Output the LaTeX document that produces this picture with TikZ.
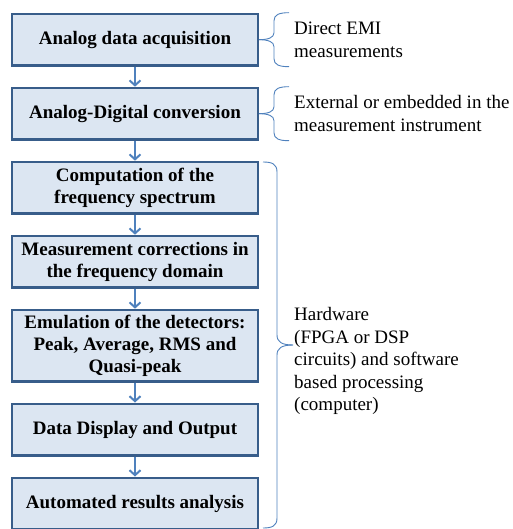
\documentclass[tikz,border=0pt]{standalone}
\usepackage{fontspec}
\setmainfont{Liberation Serif}
\usetikzlibrary{positioning,arrows.meta}
\definecolor{boxfill}{RGB}{220,230,242}
\definecolor{boxline}{RGB}{56,93,138}
\definecolor{linkblue}{RGB}{79,129,189}

\begin{document}
\begin{tikzpicture}[x=1pt, y=1pt, node distance={20pt},
	main/.style = {draw=boxline, line width=2.4pt, fill=boxfill, minimum width=245.6pt, minimum height=51.6pt, inner ysep=5pt, align=center, font=\fontsize{19}{22}\selectfont\bfseries},
	note/.style = {align=left, inner sep=0pt, font=\fontsize{19}{22.5}\selectfont},
	flow/.style = {draw=linkblue, line width=2pt, -{Straight Barb[length=5pt, width=11pt]}},
	curly/.style = {draw=linkblue, line width=0.9pt}]
		\useasboundingbox (0,0) rectangle (512,-529);
		\node[main] (1) at (135,-39.7) {Analog data acquisition};
		\node[main] (2) [below=of 1] {Analog-Digital conversion};
		\node[main] (3) [below=of 2] {Computation of the\\frequency spectrum};
		\node[main] (4) [below=of 3] {Measurement corrections in\\the frequency domain};
		\node[main] (5) [below=of 4] {Emulation of the detectors:\\Peak, Average, RMS and\\Quasi-peak};
		\node[main] (6) [below=of 5] {Data Display and Output};
		\node[main] (7) [below=of 6] {Automated results analysis};
		\draw[flow] (1) -- (2);
		\draw[flow] (2) -- (3);
		\draw[flow] (3) -- (4);
		\draw[flow] (4) -- (5);
		\draw[flow] (5) -- (6);
		\draw[flow] (6) -- (7);
		% braces
		\draw[curly] (1.east) .. controls +(9,0) and +(0,-5) .. ++(15,7) -- ++(0,12) .. controls +(0,6) and +(-10,0) .. ++(15,8);
		\draw[curly] (1.east) .. controls +(9,0) and +(0,5) .. ++(15,-7) -- ++(0,-12) .. controls +(0,-6) and +(-10,0) .. ++(15,-8);
		\draw[curly] (2.east) .. controls +(9,0) and +(0,-5) .. ++(15,7) -- ++(0,12) .. controls +(0,6) and +(-10,0) .. ++(15,8);
		\draw[curly] (2.east) .. controls +(9,0) and +(0,5) .. ++(15,-7) -- ++(0,-12) .. controls +(0,-6) and +(-10,0) .. ++(15,-8);
		\coordinate (tip) at (293,-345);
		\draw[curly] (tip) .. controls (282,-345) and (277,-342) .. (277,-335) -- (277,-172) .. controls (277,-164) and (272,-162) .. (263,-162);
		\draw[curly] (tip) .. controls (282,-345) and (277,-348) .. (277,-355) -- (277,-518) .. controls (277,-526) and (272,-528) .. (263,-528);
		\node[note] (n1) [right=35pt of 1] {Direct EMI\\measurements};
		\node[note] (n2) [right=35pt of 2] {External or embedded in the\\measurement instrument};
		\node[note, anchor=west] (n3) at (294,-361) {Hardware\\(FPGA or DSP\\circuits) and software\\based processing\\(computer)};
	\end{tikzpicture}
\end{document}
